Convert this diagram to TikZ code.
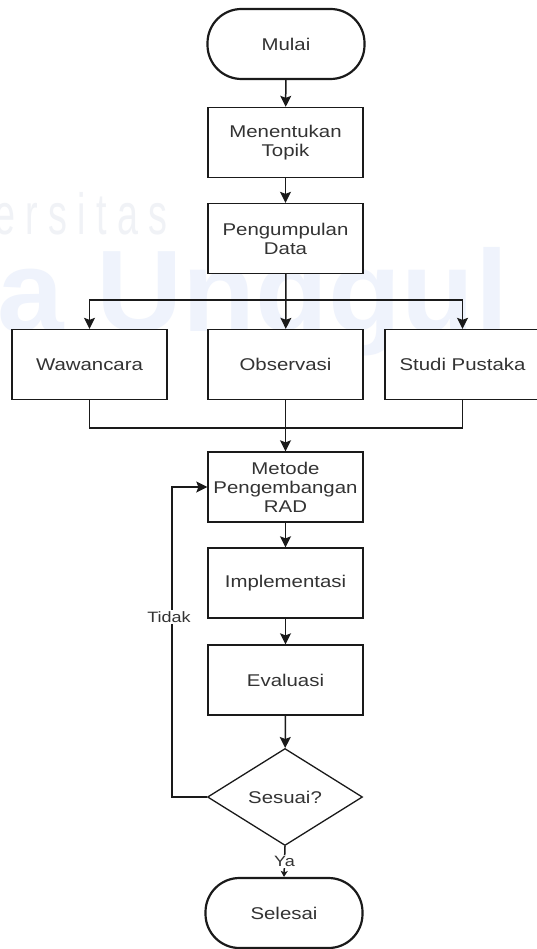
\documentclass[tikz,border=0pt]{standalone}
\usepackage{fontspec}
\setmainfont{Liberation Sans}[FakeStretch=1.2]
\newfontfamily\wmfont{Liberation Sans}
\usetikzlibrary{arrows.meta,shapes.geometric}
\definecolor{txt}{HTML}{333333}
\definecolor{edge}{HTML}{1A1A1A}
\definecolor{wmblue}{HTML}{EFF3FC}
\definecolor{wmgray}{HTML}{F0F2F6}
\begin{document}
\begin{tikzpicture}[x=1pt,y=-1pt,
  box/.style={draw=edge, line width=1.3pt, fill=white, minimum width=155pt,
    minimum height=70pt, align=center, inner sep=0pt,
    font=\fontsize{17}{19}\selectfont, text=txt},
  term/.style={box, line width=2.2pt, rounded corners=34pt, minimum width=157pt},
  dec/.style={box, diamond, minimum width=155pt, minimum height=97pt},
  lbl/.style={fill=white, inner sep=1pt, font=\fontsize{15}{17}\selectfont, text=txt},
  conn/.style={draw=edge, line width=1.5pt},
  arr/.style={conn, -{Stealth[length=11pt,width=11pt,inset=2pt]}},
  arrs/.style={conn, -{Stealth[length=6pt,width=7pt,inset=1.5pt]}},
  wm/.style={inner sep=0pt, anchor=base west}
  ]
\useasboundingbox (0,0) rectangle (537,949);
\fill[white] (0,0) rectangle (537,949);
% watermark
\node[wm, text=wmgray] (wm1) at (-6,235) {\scalebox{0.65}[1]{\wmfont\fontsize{58}{58}\selectfont e\hspace{16pt}r\hspace{16pt}s\hspace{16pt}i\hspace{16pt}t\hspace{16pt}a\hspace{16pt}s}};
\node[wm, text=wmblue] (wm2) at (-3,331) {\scalebox{1.03}[1]{\wmfont\bfseries\fontsize{116}{116}\selectfont a Unggul}};
% nodes
\node[term] (mulai) at (286,44) {Mulai};
\node[box] (topik) at (285.5,142.5) {Menentukan\\Topik};
\node[box] (data) at (285.5,238.5) {Pengumpulan\\Data};
\node[box] (waw) at (89.5,364.5) {Wawancara};
\node[box] (obs) at (285.5,364.5) {Observasi};
\node[box] (stu) at (462.5,364.5) {Studi Pustaka};
\node[box] (metode) at (285.5,487) {Metode\\Pengembangan\\RAD};
\node[box] (impl) at (285.5,583) {Implementasi};
\node[box] (eval) at (285.5,680) {Evaluasi};
\node[dec] (dec) at (285,797) {Sesuai?};
\node[term] (sel) at (284,913) {Selesai};
\coordinate (br) at (286,300);
\coordinate (mg) at (286,428);
\coordinate (lpb) at (172,797);
\coordinate (lpt) at (172,487);
% connectors
\draw[arr] (mulai) -- (topik);
\draw[arr] (topik) -- (data);
\draw[conn] (data) -- (br);
\draw[arr] (br) -| (waw);
\draw[arr] (br) -- (obs);
\draw[arr] (br) -| (stu);
\draw[conn] (waw) |- (mg) -| (stu);
\draw[arr] (obs) -- (metode);
\draw[arr] (metode) -- (impl);
\draw[arr] (impl) -- (eval);
\draw[arr] (eval) -- (dec);
\draw[arr] (dec.west) -- (lpb) -- (lpt) -- (metode.west);
\node[lbl] (tidak) at (169,617) {Tidak};
\draw[arrs] (dec.south) -- (sel.north) node[lbl, pos=0.5] (ya) {Ya};
\end{tikzpicture}
\end{document}
